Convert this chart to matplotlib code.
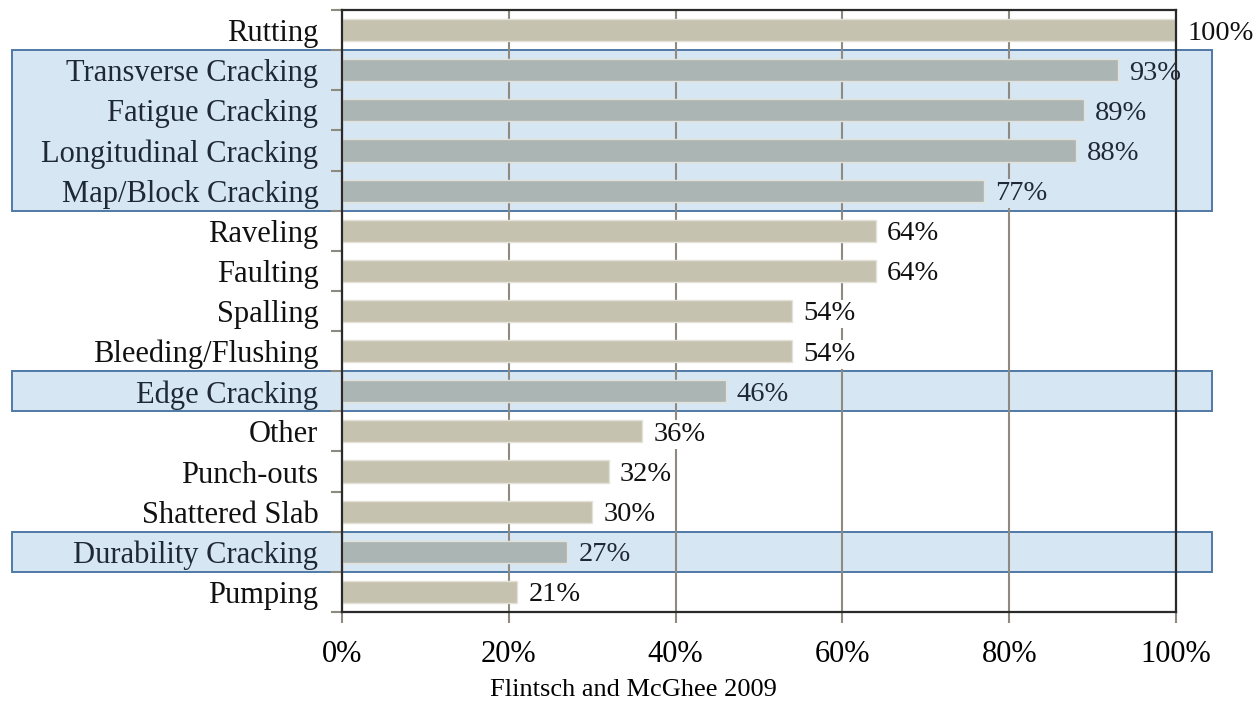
import matplotlib
matplotlib.use("Agg")
import matplotlib.pyplot as plt
from matplotlib.patches import Rectangle
from matplotlib.ticker import MultipleLocator, FuncFormatter

categories = ["Rutting", "Transverse Cracking", "Fatigue Cracking", "Longitudinal Cracking",
              "Map/Block Cracking", "Raveling", "Faulting", "Spalling", "Bleeding/Flushing",
              "Edge Cracking", "Other", "Punch-outs", "Shattered Slab", "Durability Cracking",
              "Pumping"]
values = [100, 93, 89, 88, 77, 64, 64, 54, 54, 46, 36, 32, 30, 27, 21]
# groups of rows that get the blue highlight box (first row, last row)
highlight_groups = [(1, 4), (9, 9), (13, 13)]
source = "Flintsch and McGhee 2009"

plt.rcParams["font.family"] = ["Liberation Serif", "DejaVu Serif"]

fig = plt.figure(figsize=(12.6, 7.02), dpi=100)
ax = fig.add_axes([342/1260, 1-612/702, (1176-342)/1260, (612-10)/702])

hl_rows = set()
for a, b in highlight_groups:
    hl_rows.update(range(a, b+1))

box_face = "#d7e6f3"
box_edge = "#5079a6"
bar_norm = "#c5c2b0"
bar_hl = "#aab5b4"

ypos = list(range(len(categories)))
colors = [bar_hl if i in hl_rows else bar_norm for i in ypos]
ax.barh(ypos, values, height=0.55, color=colors, edgecolor="#e4e2d8", linewidth=1, zorder=2)

for a, b in highlight_groups:
    ax.add_patch(Rectangle((-39.6, a-0.5), 104.3+39.6, b-a+1, facecolor=box_face,
                           edgecolor=box_edge, linewidth=1.4, clip_on=False, zorder=0.3))

for i, v in enumerate(values):
    fc = box_face if i in hl_rows else "white"
    tc = "#1e2838" if i in hl_rows else "#111111"
    ax.annotate(f"{v}%", (v, i), xytext=(8, 0), textcoords="offset points",
                va="center_baseline", ha="left", fontsize=20.5, color=tc, zorder=2.4,
                bbox=dict(facecolor=fc, edgecolor="none", pad=1.5), annotation_clip=False)

ax.set_xlim(0, 100)
ax.set_ylim(14.5, -0.5)
ax.set_axisbelow(True)
ax.xaxis.set_major_locator(MultipleLocator(20))
ax.xaxis.set_major_formatter(FuncFormatter(lambda x, p: f"{x:.0f}%"))
ax.grid(axis="x", color="#8f8a80", linewidth=1.5)
ax.tick_params(axis="x", length=8, width=1.5, color="#8f8a80", pad=12, labelsize=22)

ax.set_yticks(ypos)
ax.set_yticklabels(categories)
for i, lab in enumerate(ax.get_yticklabels()):
    lab.set_color("#1e2838" if i in hl_rows else "#111111")
    lab.set_verticalalignment("center_baseline")
ax.tick_params(axis="y", which="major", length=0, pad=17, labelsize=22)
ax.set_yticks([i + 0.5 for i in range(-1, len(categories))], minor=True)
ax.tick_params(axis="y", which="minor", length=8, width=1.5, color="#8f8a80")

for s in ax.spines.values():
    s.set_color("#2a2a2a")
    s.set_linewidth(1.6)

fig.text(0.503, 1-690/702, source, ha="center", va="center", fontsize=19)

fig.savefig("out.png", dpi=100)
